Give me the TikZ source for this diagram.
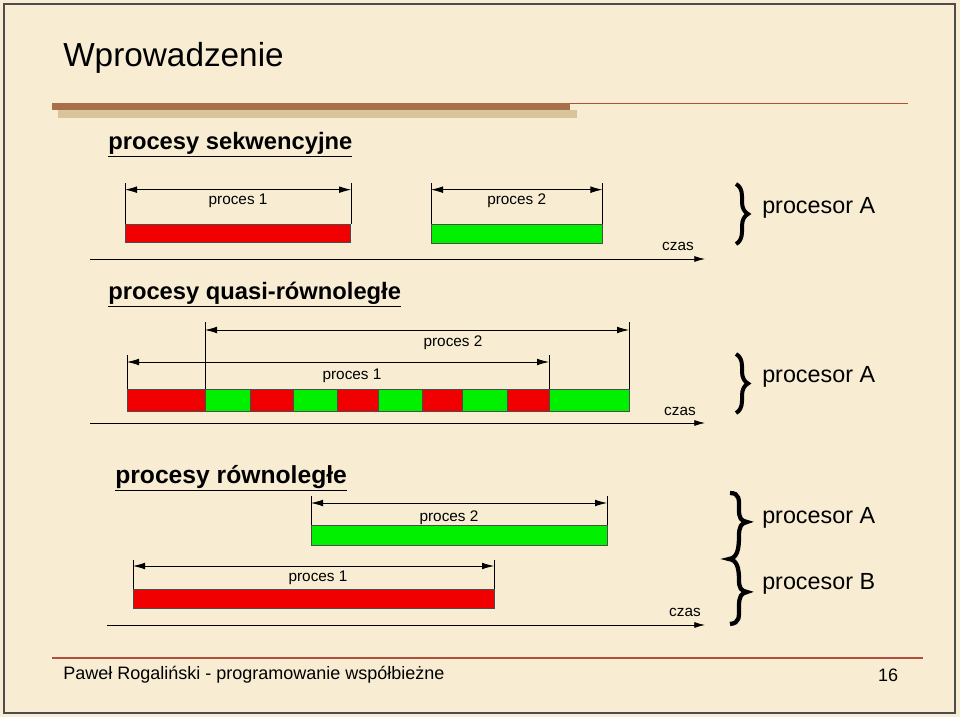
\documentclass[tikz,border=0pt]{standalone}
\usepackage{fontspec}
\setmainfont{Liberation Sans}
\usetikzlibrary{arrows.meta,decorations.pathreplacing}
\definecolor{bg}{HTML}{F8EDD3}
\definecolor{barbrown}{HTML}{A8704A}
\definecolor{barlight}{HTML}{D8C59A}
\definecolor{redline}{HTML}{B0503A}
\definecolor{pred}{HTML}{F00000}
\definecolor{pgreen}{HTML}{00F000}
\tikzset{
  px/.style={x=0.75pt,y=-0.75pt},
  redbar/.style={draw=black!70,fill=pred,line width=0.6pt},
  greenbar/.style={draw=black!70,fill=pgreen,line width=0.6pt},
  dim/.style={{Latex[length=9pt,width=5pt]}-{Latex[length=9pt,width=5pt]},line width=0.6pt},
  tick/.style={line width=0.5pt},
  axis/.style={-{Latex[length=8pt,width=4.5pt]},line width=0.6pt},
  small/.style={font=\fontsize{11.5}{13}\selectfont,inner sep=0pt},
  big/.style={font=\fontsize{17.5}{20}\selectfont,inner sep=0pt,anchor=west},
  head/.style={font=\bfseries\fontsize{17.8}{20}\selectfont,inner sep=0pt,anchor=west},
  brace/.style={decorate,decoration={brace,amplitude=9pt},line width=3pt}
}
\begin{document}
\begin{tikzpicture}[px]
\useasboundingbox (0,0) rectangle (960,717);
\fill[bg] (0,0) rectangle (960,717);
\draw[black!70,line width=1.2pt] (4,4) rectangle (955,713);
\node[anchor=west,inner sep=0pt,font=\fontsize{25}{30}\selectfont] (title) at (63,58) {Wprowadzenie};
\fill[barlight] (58,110) rectangle (577,118);
\fill[barbrown] (52,103) rectangle (570,110);
\draw[redline,line width=0.6pt] (570,103) -- (908,103);
% section 1
\node[head] (h1) at (108,145) {\underline{procesy sekwencyjne}};
\node[redbar,minimum width=169pt,minimum height=13.5pt,inner sep=0pt,anchor=north west] (r1) at (125,224) {};
\node[greenbar,minimum width=128pt,minimum height=14pt,inner sep=0pt,anchor=north west] (g1) at (431,224) {};
\coordinate (a1s) at (90,259); \coordinate (a1e) at (705,259);
\draw[axis] (a1s) -- (a1e);
\node[small] (cz1) at (678,246) {czas};
\draw[tick] (r1.north west) -- ++(0,-41) coordinate (t1a);
\draw[tick] (r1.north east) -- ++(0,-41) coordinate (t1b);
\draw[dim] ([yshift=-5]t1a) -- node[small,below=3pt] (p11) {proces 1} ([yshift=-5]t1b);
\draw[tick] (g1.north west) -- ++(0,-41) coordinate (t2a);
\draw[tick] (g1.north east) -- ++(0,-41) coordinate (t2b);
\draw[dim] ([yshift=-5]t2a) -- node[small,below=3pt] (p12) {proces 2} ([yshift=-5]t2b);
\coordinate (b1t) at (736,184); \coordinate (b1b) at (736,244);
\draw[brace] (b1t) -- (b1b);
\node[big] (pa1) at (762,208) {procesor A};
% section 2
\node[head] (h2) at (108,295) {\underline{procesy quasi-równoległe}};
\foreach \a/\b/\c [count=\i] in {127/205/redbar,205/250/greenbar,250/293/redbar,293/337/greenbar,337/378/redbar,378/422/greenbar,422/462/redbar,462/507/greenbar,507/549/redbar,549/629/greenbar}
  \draw[\c] (\a,389) rectangle (\b,411) coordinate (q\i);
\coordinate (q1a) at (127,389); \coordinate (q9b) at (549,389);
\coordinate (q2a) at (205,389); \coordinate (q10b) at (629,389);
\draw[tick] (q1a) -- (127,355) coordinate (u1);
\draw[tick] (q9b) -- (549,355) coordinate (u2);
\draw[tick] (q2a) -- (205,322) coordinate (u3);
\draw[tick] (q10b) -- (629,322) coordinate (u4);
\draw[dim] (127,362) -- (549,362);
\node[small] (p21) at (352,376) {proces 1};
\draw[dim] (205,330) -- (629,330);
\node[small] (p22) at (453,343) {proces 2};
\draw[axis] (90,423) -- (705,423);
\node[small] (cz2) at (680,411) {czas};
\draw[brace] (736,354) -- (736,413);
\node[big] (pa2) at (762,377) {procesor A};
% section 3
\node[head,font=\bfseries\fontsize{18.5}{20}\selectfont] (h3) at (115,478) {\underline{procesy równoległe}};
\node[greenbar,minimum width=222pt,minimum height=15pt,inner sep=0pt,anchor=north west] (g3) at (311,525) {};
\node[redbar,minimum width=271pt,minimum height=14pt,inner sep=0pt,anchor=north west] (r3) at (133,589) {};
\draw[tick] (311,525) -- (311,496);
\draw[tick] (607,525) -- (607,496);
\draw[dim] (311,503) -- (607,503);
\node[small] (p32) at (449,518) {proces 2};
\draw[tick] (133,589) -- (133,560);
\draw[tick] (494,589) -- (494,560);
\draw[dim] (133,566) -- (494,566);
\node[small] (p31) at (318,578) {proces 1};
\draw[axis] (107,625) -- (705,625);
\node[small] (cz3) at (685,612) {czas};
\draw[line width=3.2pt] (730,493) .. controls (740,493) and (739,500) .. (739,510)
  .. controls (739,518) and (741,521) .. (747,522)
  .. controls (741,523) and (739,527) .. (739,536)
  .. controls (739,550) and (737,558) .. (729,559)
  .. controls (737,560) and (739,568) .. (739,580)
  .. controls (739,588) and (741,591) .. (747,592)
  .. controls (741,593) and (739,597) .. (739,606)
  .. controls (739,617) and (740,623) .. (730,624);
\node[big] (pa3) at (762,518) {procesor A};
\node[big] (pb3) at (762,584) {procesor B};
% footer
\draw[redline,line width=0.8pt] (52,658) -- (923,658);
\node[anchor=west,inner sep=0pt,font=\fontsize{13.5}{16}\selectfont] (foot) at (63,675) {Paweł Rogaliński - programowanie współbieżne};
\node[inner sep=0pt,font=\fontsize{13.5}{16}\selectfont] (num) at (888,675) {16};
\end{tikzpicture}
\end{document}
